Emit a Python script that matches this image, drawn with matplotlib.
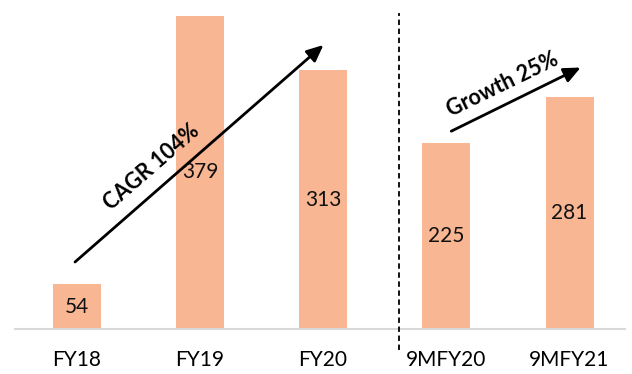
import matplotlib.pyplot as plt
import numpy as np

plt.rcParams['font.family'] = ['Lato', 'DejaVu Sans']

categories = ['FY18', 'FY19', 'FY20', '9MFY20', '9MFY21']
values = [54, 379, 313, 225, 281]

fig = plt.figure(figsize=(6.32, 3.74), dpi=100)
ax = fig.add_axes([15 / 632, 0.12, 610 / 632, 0.842])

x = np.arange(len(categories))
bars = ax.bar(x, values, width=0.39, color='#F8B692', zorder=2)
for xi, v in zip(x, values):
    ax.text(xi, v / 2, str(v), ha='center', va='center', fontsize=15, color='#111111', zorder=4)

ax.set_xlim(-0.5, 4.45)
ax.set_ylim(0, 381)
ax.set_xticks(x)
ax.set_xticklabels(categories, fontsize=15)
ax.tick_params(axis='x', length=0, pad=15)
ax.set_yticks([])
for s in ['top', 'right', 'left']:
    ax.spines[s].set_visible(False)
ax.spines['bottom'].set_color('#D9D9D9')
ax.spines['bottom'].set_linewidth(1.5)

# divider between full years and nine-month figures
ax.axvline(2.62, ymin=-0.067, ymax=1.003, color='black', lw=1.3, ls=(0, (3, 2)), clip_on=False, zorder=3)

# trend arrows
arrow = dict(arrowstyle='-|>,head_length=1.0,head_width=0.45', color='black', lw=2)
ax.annotate('', xy=(2.02, 346), xytext=(-0.03, 79), arrowprops=arrow, zorder=5)
ax.text(0.61, 196, 'CAGR 104%', rotation=41, ha='center', va='center',
        fontsize=15.5, fontweight='bold', zorder=5)
ax.annotate('', xy=(4.11, 318), xytext=(3.02, 238), arrowprops=arrow, zorder=5)
ax.text(3.46, 296, 'Growth 25%', rotation=26, ha='center', va='center',
        fontsize=15.5, fontweight='bold', zorder=5)

fig.savefig('out.png', dpi=100)
